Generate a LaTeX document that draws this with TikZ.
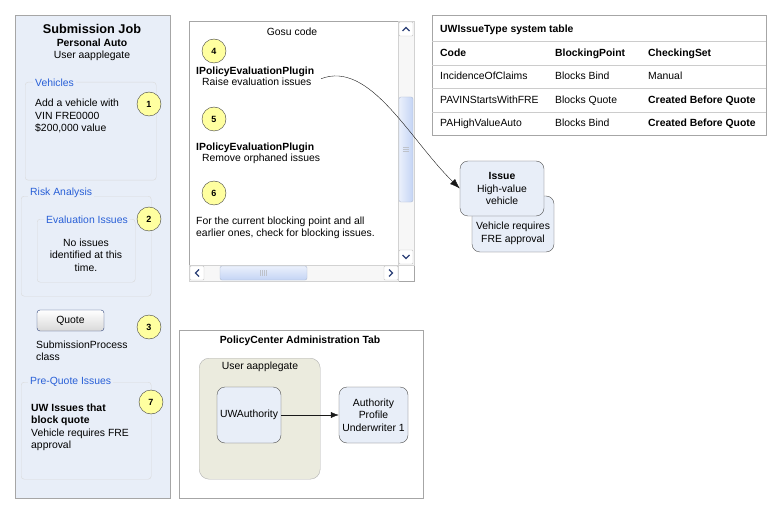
\documentclass[tikz,border=0pt]{standalone}
\usepackage{fontspec}
\setmainfont{Liberation Sans}
\usetikzlibrary{arrows.meta,positioning,shapes}
\definecolor{paneblue}{RGB}{232,238,248}
\definecolor{linkblue}{RGB}{40,95,215}
\definecolor{stepyellow}{RGB}{255,255,160}
\definecolor{userfill}{RGB}{235,235,222}
\definecolor{barblue}{RGB}{196,212,245}
\definecolor{btnedge}{RGB}{45,65,120}
\tikzset{
  basic/.style      = {inner sep=0pt, font=\fontsize{10.4}{12.5}\selectfont},
  heading/.style    = {basic, font=\fontsize{10.4}{12.5}\selectfont\bfseries},
  panel/.style      = {draw=gray!70, inner sep=0pt, anchor=north west},
  group/.style      = {draw=gray!30, rounded corners=3pt, inner sep=0pt, anchor=north west},
  grouptitle/.style = {basic, text=linkblue, fill=paneblue, inner sep=2pt},
  marker/.style     = {circle, draw=gray!50!black, fill=stepyellow, minimum size=24pt, inner sep=0pt,
                       font=\fontsize{9}{10}\selectfont\bfseries},
  para/.style       = {basic, align=left, anchor=base west},
  parabold/.style   = {para, font=\fontsize{10.4}{12.5}\selectfont\bfseries},
  issuebox/.style   = {basic, draw=gray!65!black, fill=paneblue, rounded corners=8pt, align=center},
  scroll/.style     = {draw=gray!35, fill=gray!6, inner sep=0pt, anchor=north west},
  scrollbtn/.style  = {draw=gray!45, fill=white, rounded corners=1pt, inner sep=0pt, minimum size=14pt},
  thumb/.style      = {draw=barblue!70!gray, rounded corners=2pt, inner sep=0pt},
  chevron/.style    = {draw=btnedge, line width=1.2pt}
}
\begin{document}
\begin{tikzpicture}[x=1pt, y=-1pt, >={Latex[length=10pt,width=7pt]}, node distance=13.5pt]
\useasboundingbox (0,0) rectangle (782,516);

% submission job screen (multi-line texts sit on the baseline of their last line)
\node[panel, fill=paneblue, minimum width=155pt, minimum height=483pt] (job) at (15,15) {};
\node[basic, font=\fontsize{12.7}{14}\selectfont\bfseries] (jobtitle) at (92,29) {Submission Job};
\node[heading, below of=jobtitle] (jobline) {Personal Auto};
\node[basic, below of=jobline] (jobuser) {User aapplegate};

\node[group, minimum width=131pt, minimum height=98pt] (vehicles) at (25,82) {};
\node[grouptitle, anchor=west] (vehtitle) at (33,83) {Vehicles};
\node[para] (vehtext) at (35,132) {Add a vehicle with\\VIN FRE0000\\\$200,000 value};
\node[marker] (m1) at (149,104) {1};

\node[group, minimum width=130pt, minimum height=100pt] (risk) at (21,196) {};
\node[grouptitle, anchor=west] (risktitle) at (28,193) {Risk Analysis};
\node[group, minimum width=98pt, minimum height=63pt] (evaluation) at (37,219) {};
\node[grouptitle] (evaltitle) at (87,220) {Evaluation Issues};
\node[basic, align=center, anchor=base] (evaltext) at (86,271) {No issues\\identified at this\\time.};
\node[marker] (m2) at (149,219) {2};

\node[basic, draw=btnedge, rounded corners=3pt, top color=white, bottom color=gray!30,
      minimum width=67pt, minimum height=21pt] (quote) at (70.5,320.5) {Quote};
\node[marker] (m3) at (149,327) {3};
\node[para] (quoteclass) at (36,360.5) {SubmissionProcess\\class};

\node[group, minimum width=130pt, minimum height=97pt] (prequote) at (21,382) {};
\node[grouptitle, anchor=west] (pqtitle) at (28,382) {Pre-Quote Issues};
\node[para] (pqtext) at (31,448.5) {\textbf{UW Issues that}\\\textbf{block quote}\\Vehicle requires FRE\\approval};
\node[marker] (m7) at (151,402) {7};

% gosu code window
\node[panel, fill=white, minimum width=225pt, minimum height=260pt] (gosu) at (189,21) {};
\node[basic] (gosutitle) at (292,32) {Gosu code};
\node[marker] (m4) at (214,51) {4};
\node[parabold] (plugin1) at (196,75) {IPolicyEvaluationPlugin};
\node[para] (raise) at (202,86) {Raise evaluation issues};
\node[marker] (m5) at (214,119) {5};
\node[parabold] (plugin2) at (196,150) {IPolicyEvaluationPlugin};
\node[para] (remove) at (202,161) {Remove orphaned issues};
\node[marker] (m6) at (214,193) {6};
\node[para] (blocking) at (196,236.5) {For the current blocking point and all\\earlier ones, check for blocking issues.};

\node[scroll, minimum width=16pt, minimum height=244pt] (vbar) at (398,21) {};
\node[scroll, minimum width=209pt, minimum height=16pt] (hbar) at (189,265) {};
\node[thumb, left color=barblue!35, right color=barblue, minimum width=14pt, minimum height=105pt] (vthumb) at (406,149.5) {};
\node[thumb, top color=barblue!35, bottom color=barblue, minimum width=87pt, minimum height=14pt] (hthumb) at (263.5,273) {};
\node[scrollbtn] (vup) at (406,29) {};
\node[scrollbtn] (vdown) at (406,257) {};
\node[scrollbtn] (hleft) at (197,273) {};
\node[scrollbtn] (hright) at (391,273) {};
\draw[chevron] (vup.center) ++(-3.5,2) -- ++(3.5,-3.5) -- ++(3.5,3.5);
\draw[chevron] (vdown.center) ++(-3.5,-2) -- ++(3.5,3.5) -- ++(3.5,-3.5);
\draw[chevron] (hleft.center) ++(2,-3.5) -- ++(-3.5,3.5) -- ++(3.5,3.5);
\draw[chevron] (hright.center) ++(-2,-3.5) -- ++(3.5,3.5) -- ++(-3.5,3.5);
\foreach \k in {-2,0,2}
  \draw[white!60!barblue!60!gray] (vthumb.center) ++(-3,\k) -- ++(6,0);
\foreach \k in {-3,-1,1,3}
  \draw[white!60!barblue!60!gray] (hthumb.center) ++(\k,-3) -- ++(0,6);

% system table
\node[panel, fill=white, minimum width=334pt, minimum height=120pt] (uwtable) at (432,15) {};
\foreach \y in {41,65,88,112}
  \draw[gray!40] (uwtable.north west |- 0,\y) -- (uwtable.north east |- 0,\y);
\node[parabold] (tabletitle) at (440,33) {UWIssueType system table};
\node[parabold] (codehead) at (440,57) {Code};
\node[parabold] (pointhead) at (555,57) {BlockingPoint};
\node[parabold] (sethead) at (648,57) {CheckingSet};
\foreach \code/\point/\set [count=\r] in {IncidenceOfClaims/Blocks Bind/Manual,
    PAVINStartsWithFRE/Blocks Quote/\textbf{Created Before Quote},
    PAHighValueAuto/Blocks Bind/\textbf{Created Before Quote}} {
  \node[para] (code\r) at (440,56.5+23.5*\r) {\code};
  \node[para] (point\r) at (555,56.5+23.5*\r) {\point};
  \node[para] (set\r) at (648,56.5+23.5*\r) {\set};
}

% issue raised
\node[issuebox, minimum width=82pt, minimum height=56pt] (issueback) at (513,224) {};
\node[basic, align=center] (issuenote) at (513,233.5) {Vehicle requires\\FRE approval};
\node[issuebox, minimum width=84pt, minimum height=55pt] (issue) at (502,188.5) {\textbf{Issue}\\High-value\\vehicle};
\draw[->, gray!20!black, shorten <=10pt] (raise.east) .. controls (370,60) and (410,140) .. (issue.west);

% administration tab
\node[panel, fill=white, minimum width=244pt, minimum height=168pt] (admin) at (179,330) {};
\node[heading] (admintitle) at (300,341) {PolicyCenter Administration Tab};
\node[basic, draw=gray!60, fill=userfill, rounded corners=10pt, anchor=north west,
      minimum width=121pt, minimum height=121pt] (user) at (199,358) {};
\node[basic] (usertitle) at (260,367) {User aapplegate};
\node[issuebox, minimum width=64pt, minimum height=56pt] (uwauth) at (249,415) {UWAuthority};
\node[issuebox, minimum width=69pt, minimum height=56pt] (profile) at (373.5,415) {Authority\\Profile\\Underwriter 1};
\draw[-{Latex[length=8pt,width=6pt]}, gray!20!black] (uwauth) -- (profile);

\end{tikzpicture}
\end{document}
